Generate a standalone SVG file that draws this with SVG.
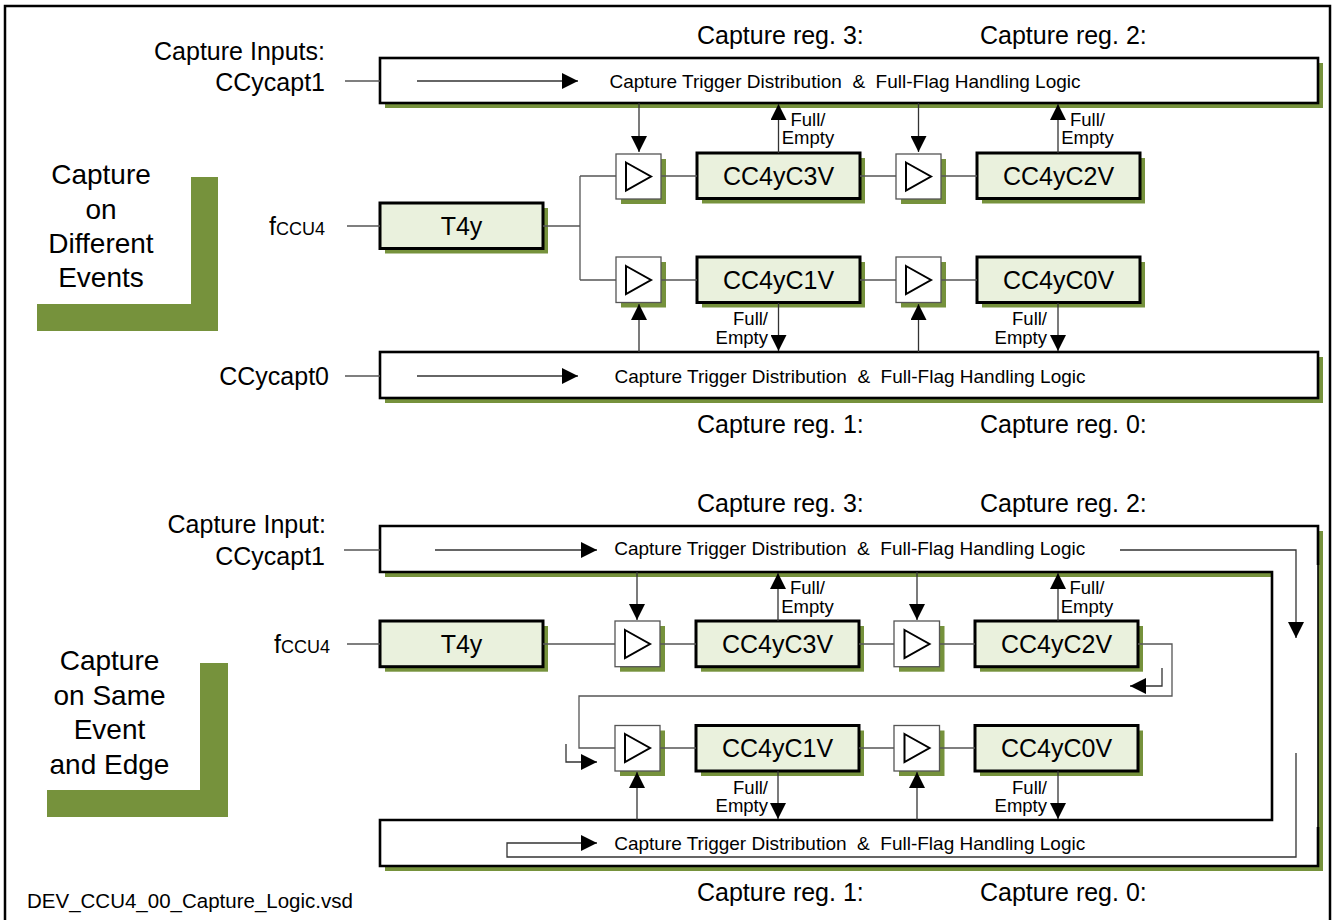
<svg xmlns="http://www.w3.org/2000/svg" width="1332" height="920" viewBox="0 0 1332 920">
<style>
text{font-family:"Liberation Sans",Arial,Helvetica,sans-serif;fill:#000}
.t25{font-size:25px}
.t28{font-size:28px}
.t19{font-size:19px}
.t18{font-size:18.5px}
.t17{font-size:18px}
.mid{text-anchor:middle}
.end{text-anchor:end}
.frame{fill:none;stroke:#000;stroke-width:2.5}
.dist{fill:#fff;stroke:#000;stroke-width:2.6}
.reg{fill:#EAF1DD;stroke:#000;stroke-width:3}
.buf{fill:#fff;stroke:#555;stroke-width:1.3}
.sh{fill:#76923C;stroke:none}
.tri{fill:none;stroke:#000;stroke-width:2}
.wire{fill:none;stroke:#555;stroke-width:1.3}
.arr{fill:none;stroke:#333;stroke-width:1.3;marker-end:url(#ah)}
.ell{fill:#76923C}
</style>
<defs>
<marker id="ah" viewBox="0 0 16 16" markerWidth="16" markerHeight="16" refX="16" refY="8" orient="auto" markerUnits="userSpaceOnUse">
<path d="M0,0 L16,8 L0,16 Z" fill="#000"/>
</marker>
</defs>
<rect x="0" y="0" width="1332" height="920" fill="#fff"/>
<rect class="frame" x="5" y="6" width="1325" height="930"/>

<!-- Top section labels -->
<g id="a-labels">
<text class="t25" x="697" y="44">Capture reg. 3:</text>
<text class="t25" x="980" y="44">Capture reg. 2:</text>
<text class="t25" x="697" y="433">Capture reg. 1:</text>
<text class="t25" x="980" y="433">Capture reg. 0:</text>
<text class="t25 end" x="325" y="60">Capture Inputs:</text>
<text class="t25 end" x="325" y="91">CCycapt1</text>
<text class="t25 end" x="329" y="385">CCycapt0</text>
<text class="t25 end" x="325" y="235">f<tspan class="t17">CCU4</tspan></text>
</g>
<g id="a-side">
<path class="ell" d="M191,177 H218 V331 H37 V304 H191 Z"/>
<text class="t28 mid" x="101" y="184">Capture</text>
<text class="t28 mid" x="101" y="218.5">on</text>
<text class="t28 mid" x="101" y="252.5">Different</text>
<text class="t28 mid" x="101" y="287">Events</text>
</g>

<!-- Top section nodes -->
<g id="a-dist1">
<rect class="sh" x="385" y="63" width="938" height="45"/>
<rect class="dist" x="380" y="58" width="938" height="45"/>
<text class="t19 mid" x="845" y="88" xml:space="preserve">Capture Trigger Distribution  &amp;  Full-Flag Handling Logic</text>
</g>
<g id="a-dist0">
<rect class="sh" x="385" y="357" width="938" height="46"/>
<rect class="dist" x="380" y="352" width="938" height="46"/>
<text class="t19 mid" x="850" y="383" xml:space="preserve">Capture Trigger Distribution  &amp;  Full-Flag Handling Logic</text>
</g>
<g id="a-T4y">
<rect class="sh" x="385" y="208" width="163" height="45.5"/>
<rect class="reg" x="380" y="203" width="163" height="45.5"/>
<text class="t25 mid" x="461.5" y="235">T4y</text>
</g>
<g id="a-buf3">
<rect class="sh" x="621" y="159" width="45" height="45"/>
<rect class="buf" x="616" y="154" width="45" height="45"/>
<path class="tri" d="M626,162.5 L651,176.5 L626,190.5 Z"/>
</g>
<g id="a-C3V">
<rect class="sh" x="702" y="158" width="163" height="45.5"/>
<rect class="reg" x="697" y="153" width="163" height="45.5"/>
<text class="t25 mid" x="778.5" y="185">CC4yC3V</text>
</g>
<g id="a-buf2">
<rect class="sh" x="901" y="159" width="45" height="45"/>
<rect class="buf" x="896" y="154" width="45" height="45"/>
<path class="tri" d="M906,162.5 L931,176.5 L906,190.5 Z"/>
</g>
<g id="a-C2V">
<rect class="sh" x="982" y="158" width="163" height="45.5"/>
<rect class="reg" x="977" y="153" width="163" height="45.5"/>
<text class="t25 mid" x="1058.5" y="185">CC4yC2V</text>
</g>
<g id="a-buf1">
<rect class="sh" x="621" y="262" width="45" height="45.5"/>
<rect class="buf" x="616" y="257" width="45" height="45.5"/>
<path class="tri" d="M626,266 L651,280 L626,294 Z"/>
</g>
<g id="a-C1V">
<rect class="sh" x="702" y="262" width="163" height="45.5"/>
<rect class="reg" x="697" y="257" width="163" height="45.5"/>
<text class="t25 mid" x="778.5" y="289">CC4yC1V</text>
</g>
<g id="a-buf0">
<rect class="sh" x="901" y="262" width="45" height="45.5"/>
<rect class="buf" x="896" y="257" width="45" height="45.5"/>
<path class="tri" d="M906,266 L931,280 L906,294 Z"/>
</g>
<g id="a-C0V">
<rect class="sh" x="982" y="262" width="163" height="45.5"/>
<rect class="reg" x="977" y="257" width="163" height="45.5"/>
<text class="t25 mid" x="1058.5" y="289">CC4yC0V</text>
</g>
<g id="a-fe">
<text class="t18 mid" x="808" y="125.5">Full/</text>
<text class="t18 mid" x="808" y="144">Empty</text>
<text class="t18 mid" x="1087.5" y="125.5">Full/</text>
<text class="t18 mid" x="1087.5" y="144">Empty</text>
<text class="t18 end" x="768" y="325">Full/</text>
<text class="t18 end" x="768" y="344">Empty</text>
<text class="t18 end" x="1047" y="325">Full/</text>
<text class="t18 end" x="1047" y="344">Empty</text>
</g>

<!-- Bottom section labels -->
<g id="b-labels">
<text class="t25" x="697" y="512">Capture reg. 3:</text>
<text class="t25" x="980" y="512">Capture reg. 2:</text>
<text class="t25" x="697" y="901">Capture reg. 1:</text>
<text class="t25" x="980" y="901">Capture reg. 0:</text>
<text class="t25 end" x="326" y="533">Capture Input:</text>
<text class="t25 end" x="325" y="565">CCycapt1</text>
<text class="t25 end" x="330" y="653">f<tspan class="t17">CCU4</tspan></text>
<text x="27" y="908" style="font-size:20.5px">DEV_CCU4_00_Capture_Logic.vsd</text>
</g>
<g id="b-side">
<path class="ell" d="M200,663 H228 V817 H47 V790 H200 Z"/>
<text class="t28 mid" x="109.5" y="670">Capture</text>
<text class="t28 mid" x="109.5" y="705">on Same</text>
<text class="t28 mid" x="109.5" y="739">Event</text>
<text class="t28 mid" x="109.5" y="774">and Edge</text>
</g>

<!-- Bottom section nodes -->
<g id="b-dist">
<path class="sh" d="M385,531 H1323 V871 H385 V825 H1277 V577 H385 Z"/>
<path fill="#fff" stroke="none" d="M380,526 H1318 V866 H380 V820 H1272 V572 H380 Z"/>
<path class="dist" fill="none" d="M1318,565 V526 H380 V572 H1272 V820 H380 V866 H1318 V827"/>
<path fill="none" stroke="#000" stroke-width="1.6" d="M1318,565 V827"/>
<text class="t19 mid" x="849.7" y="555" xml:space="preserve">Capture Trigger Distribution  &amp;  Full-Flag Handling Logic</text>
<text class="t19 mid" x="849.7" y="850" xml:space="preserve">Capture Trigger Distribution  &amp;  Full-Flag Handling Logic</text>
</g>
<g id="b-T4y">
<rect class="sh" x="385" y="626" width="163" height="45.7"/>
<rect class="reg" x="380" y="621" width="163" height="45.7"/>
<text class="t25 mid" x="461.5" y="653">T4y</text>
</g>
<g id="b-buf3">
<rect class="sh" x="620" y="626" width="45" height="45.7"/>
<rect class="buf" x="615" y="621" width="45" height="45.7"/>
<path class="tri" d="M625,630 L650,644 L625,658 Z"/>
</g>
<g id="b-C3V">
<rect class="sh" x="701" y="626" width="163" height="45.7"/>
<rect class="reg" x="696" y="621" width="163" height="45.7"/>
<text class="t25 mid" x="777.5" y="653">CC4yC3V</text>
</g>
<g id="b-buf2">
<rect class="sh" x="899" y="626" width="45.5" height="45.7"/>
<rect class="buf" x="894" y="621" width="45.5" height="45.7"/>
<path class="tri" d="M904.5,630 L929.5,644 L904.5,658 Z"/>
</g>
<g id="b-C2V">
<rect class="sh" x="980" y="626" width="163" height="45.7"/>
<rect class="reg" x="975" y="621" width="163" height="45.7"/>
<text class="t25 mid" x="1056.5" y="653">CC4yC2V</text>
</g>
<g id="b-buf1">
<rect class="sh" x="620" y="730.5" width="45" height="45.5"/>
<rect class="buf" x="615" y="725.5" width="45" height="45.5"/>
<path class="tri" d="M625,734 L650,748 L625,762 Z"/>
</g>
<g id="b-C1V">
<rect class="sh" x="701" y="730.5" width="163" height="45.5"/>
<rect class="reg" x="696" y="725.5" width="163" height="45.5"/>
<text class="t25 mid" x="777.5" y="757">CC4yC1V</text>
</g>
<g id="b-buf0">
<rect class="sh" x="899" y="730.5" width="45.5" height="45.5"/>
<rect class="buf" x="894" y="725.5" width="45.5" height="45.5"/>
<path class="tri" d="M904.5,734 L929.5,748 L904.5,762 Z"/>
</g>
<g id="b-C0V">
<rect class="sh" x="980" y="730.5" width="163" height="45.5"/>
<rect class="reg" x="975" y="725.5" width="163" height="45.5"/>
<text class="t25 mid" x="1056.5" y="757">CC4yC0V</text>
</g>
<g id="b-fe">
<text class="t18 mid" x="807.5" y="594">Full/</text>
<text class="t18 mid" x="807.5" y="612.5">Empty</text>
<text class="t18 mid" x="1087" y="594">Full/</text>
<text class="t18 mid" x="1087" y="612.5">Empty</text>
<text class="t18 end" x="768" y="793.5">Full/</text>
<text class="t18 end" x="768" y="812">Empty</text>
<text class="t18 end" x="1047" y="793.5">Full/</text>
<text class="t18 end" x="1047" y="812">Empty</text>
</g>

<!-- Connectors -->
<g id="connectors">
<path class="wire" d="M345,81 H380 M347,226 H380 M345,376 H380"/>
<path class="wire" d="M543,226 H580 M580,176 V280 M580,176 H616 M580,280 H616"/>
<path class="wire" d="M661,176 H697 M860,176 H896 M941,176 H977 M661,280 H697 M860,280 H896 M941,280 H977"/>
<path class="arr" d="M417,81 H578"/>
<path class="arr" d="M417,376 H578"/>
<path class="arr" d="M639,103 V152"/>
<path class="arr" d="M778.5,153 V104"/>
<path class="arr" d="M918.5,103 V152"/>
<path class="arr" d="M1058,153 V104"/>
<path class="arr" d="M639,352 V304"/>
<path class="arr" d="M778.5,303 V351"/>
<path class="arr" d="M918.5,352 V304"/>
<path class="arr" d="M1058,303 V351"/>

<path class="wire" d="M344,550 H380 M347,644 H380"/>
<path class="wire" d="M543,644 H615 M660,644 H696 M859,644 H894 M939.5,644 H975"/>
<path class="wire" d="M1138,644 H1172 V696 H579 V748 H615"/>
<path class="wire" d="M660,748 H696 M859,748 H894 M939.5,748 H975"/>
<path class="arr" d="M637,572 V620"/>
<path class="arr" d="M778,621 V573"/>
<path class="arr" d="M917,572 V620"/>
<path class="arr" d="M1058,621 V573"/>
<path class="arr" d="M637,820 V772"/>
<path class="arr" d="M778,771 V819"/>
<path class="arr" d="M917,820 V772"/>
<path class="arr" d="M1058,771 V819"/>
<path class="arr" d="M435,550 H597"/>
<path class="arr" d="M1120,550 H1296 V638"/>
<path class="arr" d="M1296,753 V857 H507 V843 H597"/>
<path class="arr" d="M1162,668 V686 H1130"/>
<path class="arr" d="M566,744 V762 H597"/>
</g>
</svg>
